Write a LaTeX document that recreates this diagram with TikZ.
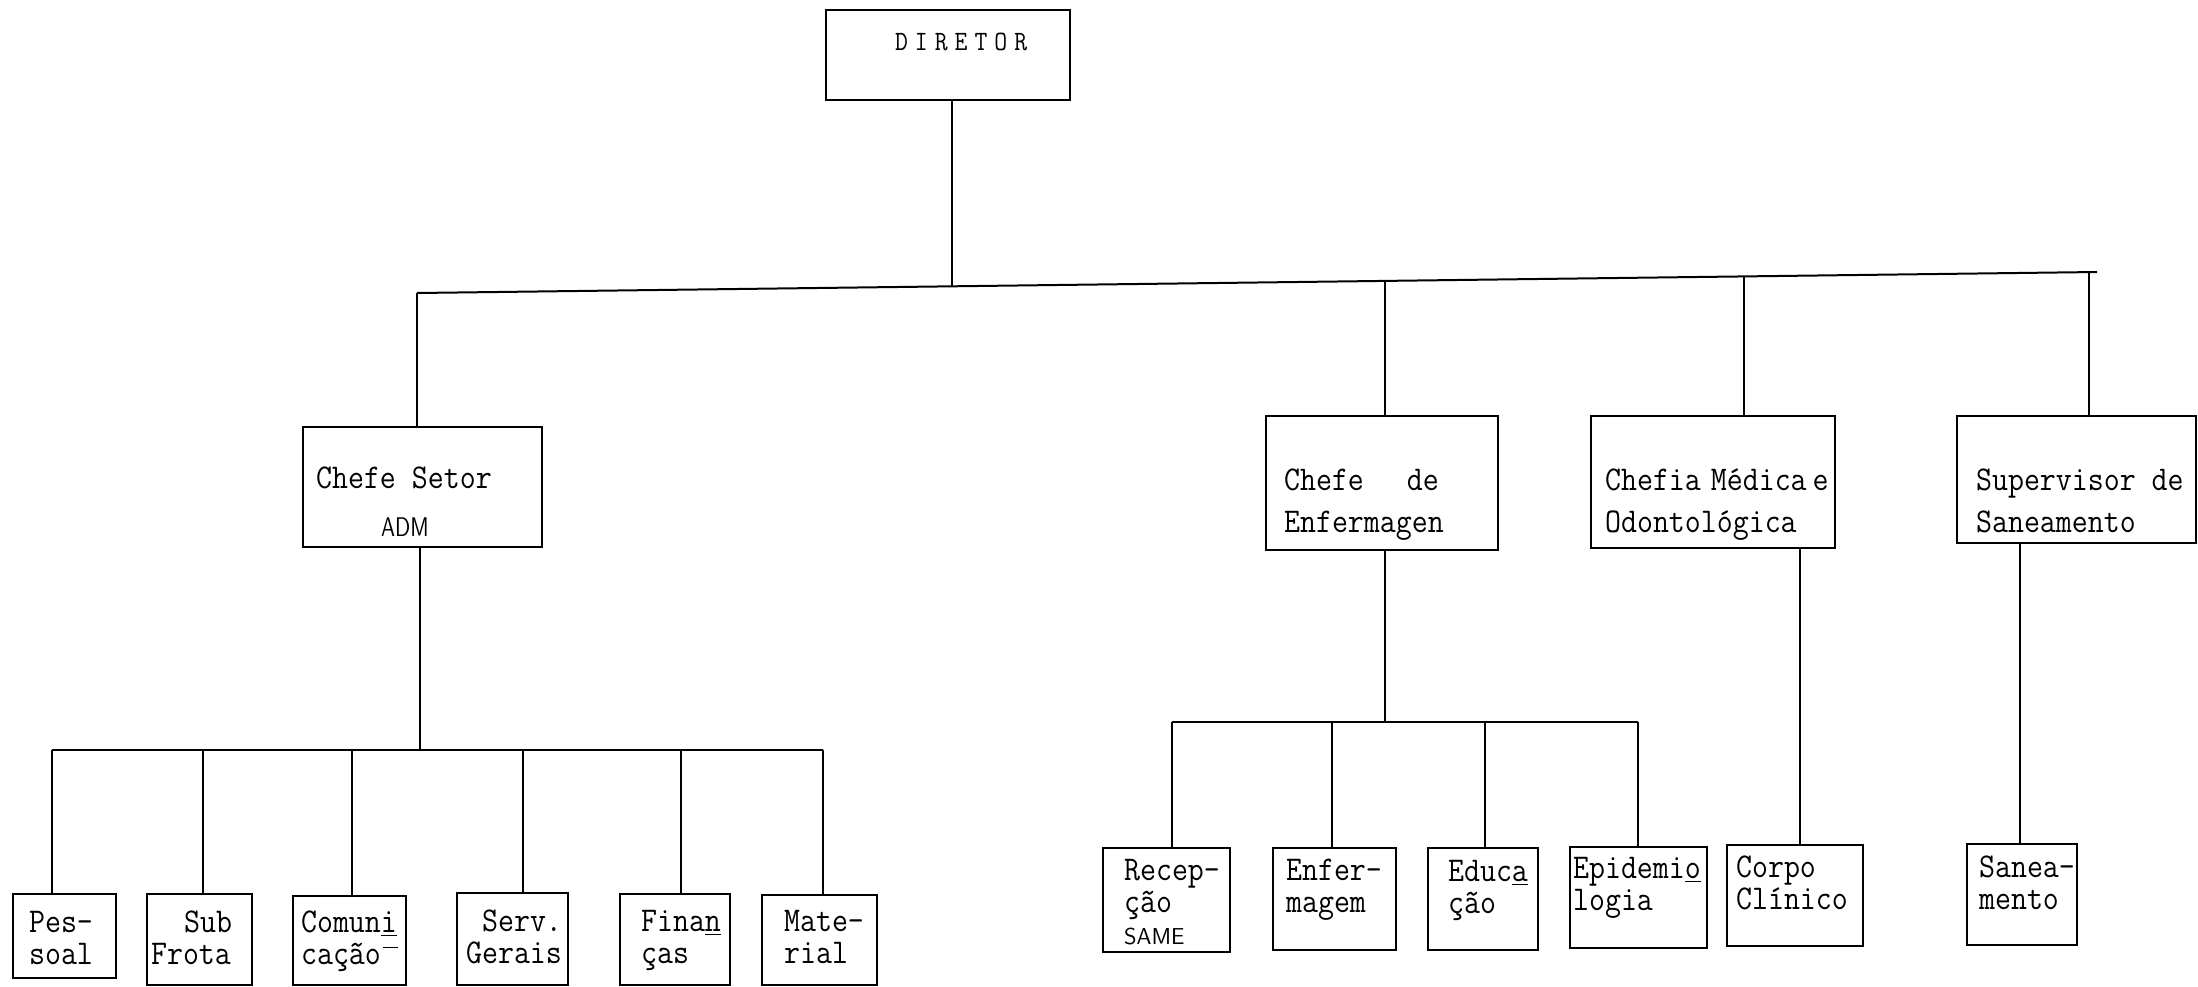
\documentclass[tikz,border=0pt]{standalone}
\usetikzlibrary{fit}
\newcommand\tw[1]{\scalebox{1}[1.12]{#1}}
\newcommand\stk[2]{\vtop{\baselineskip=#1\lineskiplimit=-100pt\lineskip=0pt #2}}
\newcommand\tln[1]{\hbox{\tw{#1}}}
\begin{document}
\begin{tikzpicture}[x=0.5pt,y=-0.5pt,line width=1.1pt,
  box/.style={draw,inner sep=0pt,line width=1.1pt},
  txt/.style={font=\fontsize{15.5}{18}\selectfont\ttfamily,inner sep=0pt,anchor=base west},
  dtxt/.style={font=\fontsize{12.5}{14}\selectfont\ttfamily,inner sep=0pt,anchor=base west},
  conn/.style={line width=1pt}]
\useasboundingbox (0,0) rectangle (2198,986);
\fill[white] (0,0) rectangle (2198,986);

% ---- boxes ----
\node[box,fit={(826,10) (1070,100)}] (dir) {};
\node[box,fit={(303,427) (542,547)}] (cs) {};
\node[box,fit={(1266,416) (1498,550)}] (enf) {};
\node[box,fit={(1591,416) (1835,548)}] (chm) {};
\node[box,fit={(1957,416) (2196,543)}] (sup) {};

\node[box,fit={(13,894) (116,978)}] (pes) {};
\node[box,fit={(147,894) (252,985)}] (sub) {};
\node[box,fit={(293,896) (406,985)}] (com) {};
\node[box,fit={(457,893) (568,985)}] (ser) {};
\node[box,fit={(620,894) (730,985)}] (fin) {};
\node[box,fit={(762,895) (877,985)}] (mat) {};

\node[box,fit={(1103,848) (1230,952)}] (rec) {};
\node[box,fit={(1273,848) (1396,950)}] (enm) {};
\node[box,fit={(1428,848) (1538,950)}] (edu) {};
\node[box,fit={(1570,847) (1707,948)}] (epi) {};
\node[box,fit={(1727,845) (1863,946)}] (cor) {};
\node[box,fit={(1967,844) (2077,945)}] (san) {};

% ---- texts ----
\node[dtxt] (tdir) at (894,50) {\scalebox{1}[1.12]{D\kern3.5pt I\kern3.5pt R\kern3.5pt E\kern3.5pt T\kern3.5pt O\kern3.5pt R}};

\node[txt] (tcs) at (315,488) {\stk{24pt}{\tln{Chefe Setor}\hbox{\hspace{32.5pt}\fontsize{13.5}{15}\selectfont\sffamily\scalebox{0.8}[1]{ADM}}}};

\node[txt] (tenf) at (1283,490) {\stk{21pt}{\tln{Chefe\hspace{21.5pt}de}\tln{Enfermagen}}};
\node[txt] (tchm) at (1604,490) {\stk{21pt}{\tln{Chefia\hspace{5pt}Médica\hspace{3pt}e}\tln{Odontológica}}};
\node[txt] (tsup) at (1975,490) {\stk{21pt}{\tln{Supervisor de}\tln{Saneamento}}};

\node[txt] (tpes) at (28,932) {\stk{16pt}{\tln{Pes-}\tln{soal}}};
\node[txt] (tsub) at (150,932) {\stk{16pt}{\tln{\hspace{16.5pt}Sub}\tln{Frota}}};
\node[txt] (tcom) at (300,932) {\stk{16pt}{\tln{Comun\underline{i}}\tln{cação\kern1pt\rule[7pt]{7.5pt}{0.7pt}}}};
\node[txt] (tser) at (465,931) {\stk{16pt}{\tln{\hspace{8pt}Serv.}\tln{Gerais}}};
\node[txt] (tfin) at (640,931) {\stk{16pt}{\tln{Fina\underline{n}}\tln{ças}}};
\node[txt] (tmat) at (783,931) {\stk{16pt}{\tln{Mate-}\tln{rial}}};

\node[txt] (trec) at (1123,880) {\stk{16pt}{\tln{Recep-}\tln{ção}\hbox{\fontsize{11.5}{13}\selectfont\sffamily SAME}}};
\node[txt] (tenm) at (1285,880) {\stk{16pt}{\tln{Enfer-}\tln{magem}}};
\node[txt] (tedu) at (1447,881) {\stk{16pt}{\tln{Educ\underline{a}}\tln{ção}}};
\node[txt] (tepi) at (1572,878) {\stk{16pt}{\tln{Epidemi\underline{o}}\tln{logia}}};
\node[txt] (tcor) at (1735,877) {\stk{16pt}{\tln{Corpo}\tln{Clínico}}};
\node[txt] (tsan) at (1978,877) {\stk{16pt}{\tln{Sanea-}\tln{mento}}};

% ---- connectors ----
\coordinate (busL) at (417,293);
\coordinate (busR) at (2097,272);
\coordinate (bD) at (952,286);
\coordinate (b2) at (1385,281);
\coordinate (b3) at (1744,276);
\coordinate (b4) at (2089,272);

\draw[conn] (dir.south -| bD) -- (bD);
\draw[conn] (busL) -- (busR);
\draw[conn] (busL) -- (busL |- cs.north);
\draw[conn] (b2) -- (b2 |- enf.north);
\draw[conn] (b3) -- (b3 |- chm.north);
\draw[conn] (b4) -- (b4 |- sup.north);

% left lower tree
\coordinate (lb) at (420,750);
\coordinate (l1) at (52,750);
\coordinate (l2) at (203,750);
\coordinate (l3) at (352,750);
\coordinate (l4) at (523,750);
\coordinate (l5) at (681,750);
\coordinate (l6) at (823,750);
\draw[conn] (cs.south -| lb) -- (lb);
\draw[conn] (l1) -- (l6);
\draw[conn] (l1) -- (l1 |- pes.north);
\draw[conn] (l2) -- (l2 |- sub.north);
\draw[conn] (l3) -- (l3 |- com.north);
\draw[conn] (l4) -- (l4 |- ser.north);
\draw[conn] (l5) -- (l5 |- fin.north);
\draw[conn] (l6) -- (l6 |- mat.north);

% right lower tree
\coordinate (rb) at (1385,722);
\coordinate (r1) at (1172,722);
\coordinate (r2) at (1332,722);
\coordinate (r3) at (1485,722);
\coordinate (r4) at (1638,722);
\draw[conn] (enf.south -| rb) -- (rb);
\draw[conn] (r1) -- (r4);
\draw[conn] (r1) -- (r1 |- rec.north);
\draw[conn] (r2) -- (r2 |- enm.north);
\draw[conn] (r3) -- (r3 |- edu.north);
\draw[conn] (r4) -- (r4 |- epi.north);

\coordinate (cx) at (1800,700);
\draw[conn] (chm.south -| cx) -- (cx |- cor.north);
\coordinate (sx) at (2020,700);
\draw[conn] (sup.south -| sx) -- (sx |- san.north);
\end{tikzpicture}
\end{document}
